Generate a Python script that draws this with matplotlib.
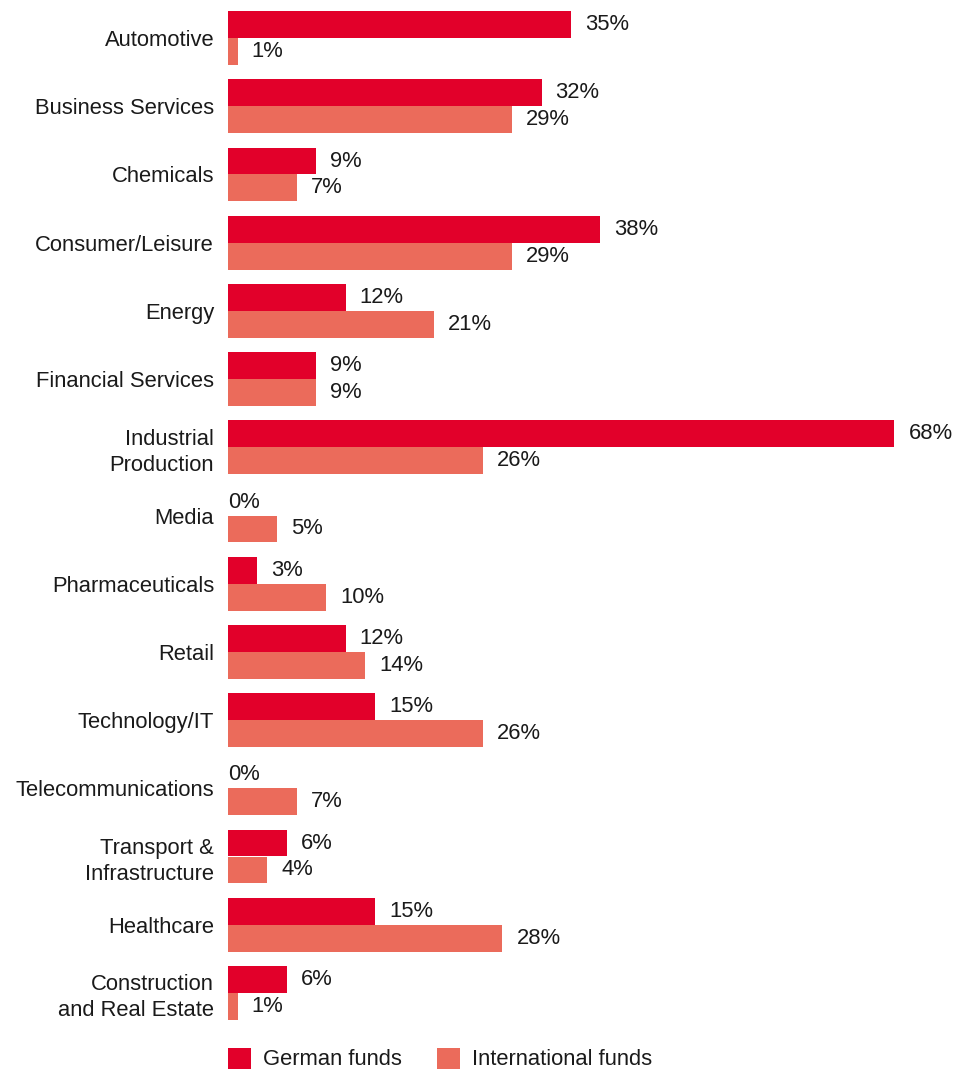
import matplotlib
matplotlib.use("Agg")
import matplotlib.pyplot as plt
from matplotlib.patches import Patch

categories = [
    "Automotive", "Business Services", "Chemicals", "Consumer/Leisure", "Energy",
    "Financial Services", "Industrial\nProduction", "Media", "Pharmaceuticals",
    "Retail", "Technology/IT", "Telecommunications", "Transport &\nInfrastructure",
    "Healthcare", "Construction\nand Real Estate",
]
german_funds = [35, 32, 9, 38, 12, 9, 68, 0, 3, 12, 15, 0, 6, 15, 6]
international_funds = [1, 29, 7, 29, 21, 9, 26, 5, 10, 14, 26, 7, 4, 28, 1]
series_names = ["German funds", "International funds"]

RED = "#E2002A"
SALMON = "#EB6B5B"
TEXT = "#1a1a1a"
FONT = "Liberation Sans"
FS = 15.8

plt.rcParams["font.family"] = [FONT, "DejaVu Sans"]

W, H = 958, 1073
fig = plt.figure(figsize=(W / 100, H / 100), dpi=100)
ax = fig.add_axes([228 / W, 1 - 1027 / H, 686 / W, 1023 / H])

n = len(categories)
ys = list(range(n))
bh = 0.395
ax.barh([y - bh / 2 for y in ys], german_funds, height=bh, color=RED, linewidth=0)
ax.barh([y + bh / 2 for y in ys], international_funds, height=bh, color=SALMON, linewidth=0)

ax.set_xlim(0, 70)
ax.set_ylim(n - 0.5, -0.5)

# value labels just right of each bar end
for y, g, i in zip(ys, german_funds, international_funds):
    for val, yy in ((g, y - bh / 2), (i, y + bh / 2)):
        off = 0 if val == 0 else 14
        ax.annotate(f"{val}%", xy=(val, yy), xytext=(off, 0), textcoords="offset pixels",
                    ha="left", va="center", fontsize=FS, color=TEXT)

ax.set_yticks(ys)
ax.set_yticklabels(categories, fontsize=FS, color=TEXT, linespacing=1.3)
ax.tick_params(axis="y", length=0, pad=10)
ax.set_xticks([])
for s in ax.spines.values():
    s.set_visible(False)

handles = [Patch(facecolor=RED, edgecolor="none"), Patch(facecolor=SALMON, edgecolor="none")]
fig.legend(handles, series_names, loc="center left", bbox_to_anchor=(228 / W, 1 - 1059 / H),
           ncol=2, frameon=False, fontsize=FS, handlelength=1.05, handleheight=1.1,
           handletextpad=0.55, columnspacing=1.6, borderpad=0, borderaxespad=0,
           labelcolor=TEXT)

fig.savefig("out.png", dpi=100)
